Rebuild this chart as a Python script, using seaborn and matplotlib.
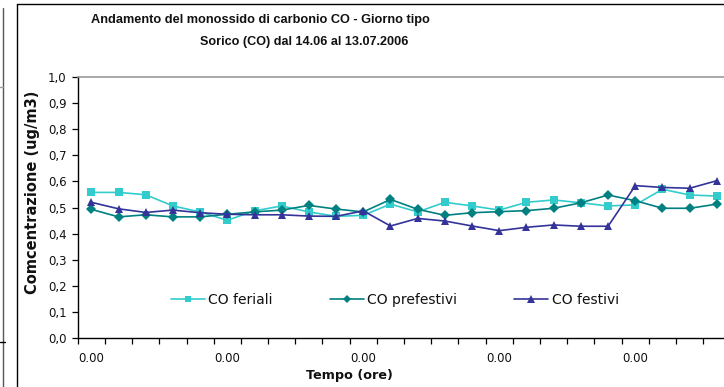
import numpy as np
import pandas as pd
import matplotlib
matplotlib.use("Agg")
import matplotlib.pyplot as plt
from matplotlib.lines import Line2D
import seaborn as sns

# ---- data ----
hours = list(range(24))
feriali = [0.558, 0.558, 0.549, 0.506, 0.483, 0.451, 0.487, 0.506, 0.483, 0.466, 0.470, 0.513,
           0.483, 0.520, 0.506, 0.490, 0.520, 0.529, 0.518, 0.506, 0.510, 0.570, 0.548, 0.544]
prefestivi = [0.493, 0.464, 0.472, 0.464, 0.464, 0.474, 0.483, 0.490, 0.508, 0.494, 0.483, 0.531,
              0.493, 0.470, 0.480, 0.484, 0.488, 0.497, 0.518, 0.548, 0.526, 0.497, 0.497, 0.513]
festivi = [0.520, 0.495, 0.481, 0.490, 0.480, 0.474, 0.472, 0.472, 0.467, 0.466, 0.487, 0.429,
           0.458, 0.448, 0.429, 0.411, 0.424, 0.433, 0.428, 0.428, 0.584, 0.577, 0.574, 0.603]
series_names = ["CO feriali", "CO prefestivi", "CO festivi"]
x_tick_labels = ["0.00", "0.00", "0.00", "0.00", "0.00"]
y_ticks = [0.0, 0.1, 0.2, 0.3, 0.4, 0.5, 0.6, 0.7, 0.8, 0.9, 1.0]
title = "Andamento del monossido di carbonio CO - Giorno tipo"
subtitle = "Sorico (CO) dal 14.06 al 13.07.2006"
ylabel = "Comcentrazione (ug/m3)"
xlabel = "Tempo (ore)"

colors = {"CO feriali": "#33CCCC", "CO prefestivi": "#008080", "CO festivi": "#333399"}
markers = {"CO feriali": "s", "CO prefestivi": "D", "CO festivi": "^"}
msizes = {"CO feriali": 5.2, "CO prefestivi": 4.6, "CO festivi": 6.2}

df = pd.DataFrame({
    "ora": hours * 3,
    "valore": feriali + prefestivi + festivi,
    "serie": sum([[n] * 24 for n in series_names], []),
})

sns.set_theme(style="white")
plt.rcParams["font.family"] = ["DejaVu Sans"]

W, H = 724, 387
fig = plt.figure(figsize=(W / 100, H / 100), dpi=100)
fig.patch.set_facecolor("white")

# plot area in pixel coords
left_px, right_px, top_px, bottom_px = 77.7, 730.5, 77.3, 337.7
ax = fig.add_axes([left_px / W, 1 - bottom_px / H, (right_px - left_px) / W, (bottom_px - top_px) / H])
ax.set_facecolor("white")

for name in series_names:
    sub = df[df["serie"] == name]
    sns.lineplot(data=sub, x="ora", y="valore", ax=ax, color=colors[name],
                 marker=markers[name], markersize=msizes[name], markeredgewidth=0,
                 linewidth=1.2, legend=False)

ax.set_xlim(-0.5, 23.5)
ax.set_ylim(0, 1.0)

# x axis: tick marks at category boundaries, labels every 5 categories
ax.set_xticks([0, 5, 10, 15, 20])
ax.set_xticklabels(x_tick_labels, fontsize=8.5)
ax.set_xticks(np.arange(-0.5, 24.0, 1.0), minor=True)
ax.tick_params(axis="x", which="major", length=0, pad=10, colors="#111111")
ax.tick_params(axis="x", which="minor", length=4, width=0.9, color="black", direction="out", bottom=True)

ax.set_yticks(y_ticks)
ax.set_yticklabels([f"{v:.1f}".replace(".", ",") for v in y_ticks], fontsize=8.5)
ax.tick_params(axis="y", which="major", length=4, width=0.9, color="black", direction="out",
               left=True, pad=4, labelcolor="#111111")

for s in ["left", "bottom"]:
    ax.spines[s].set_color("black")
    ax.spines[s].set_linewidth(1.0)
ax.spines["top"].set_color("#999999")
ax.spines["top"].set_linewidth(1.2)
ax.spines["right"].set_visible(False)

ax.set_xlabel("")
ax.set_ylabel("")

# legend
handles = [Line2D([0], [0], color=colors[n], marker=markers[n], markersize=msizes[n] * 0.85,
                  markeredgewidth=0, linewidth=1.2) for n in series_names]
leg = ax.legend(handles, series_names, loc="center", bbox_to_anchor=(395 / W, 1 - 300 / H),
                bbox_transform=fig.transFigure, ncol=3, frameon=False, fontsize=10,
                handlelength=2.45, handletextpad=0.25, columnspacing=4.1,
                borderpad=0, borderaxespad=0)
for t in leg.get_texts():
    t.set_color("#111111")

# titles and axis labels (figure coords)
fig.text(260 / W, 1 - 20 / H, title, ha="center", va="center", fontsize=9.2,
         fontweight="bold", family=["Liberation Sans"], color="#111111")
fig.text(304 / W, 1 - 42 / H, subtitle, ha="center", va="center", fontsize=9.1,
         fontweight="bold", family=["Liberation Sans"], color="#111111")
fig.text(33 / W, 1 - 192 / H, ylabel, ha="center", va="center", rotation=90, fontsize=10.5,
         fontweight="bold", family=["DejaVu Sans"], color="#111111")
fig.text(349 / W, 1 - 376 / H, xlabel, ha="center", va="center", fontsize=9.2,
         fontweight="bold", family=["DejaVu Sans"], color="#111111")

# chart frame and left remnants
def fline(xs, ys, **kw):
    fig.add_artist(Line2D([x / W for x in xs], [1 - y / H for y in ys], transform=fig.transFigure, **kw))

fline([17.3, 17.3], [4.3, 400], color="black", linewidth=1.0)
fline([17.3, 740], [4.3, 4.3], color="black", linewidth=1.0)
fline([2.7, 2.7], [8, 400], color="#555555", linewidth=1.0)
fline([0, 3], [87, 87], color="#999999", linewidth=1.0)
fline([0, 5], [342, 342], color="black", linewidth=1.0)

fig.savefig("out.png", dpi=100, facecolor="white")
